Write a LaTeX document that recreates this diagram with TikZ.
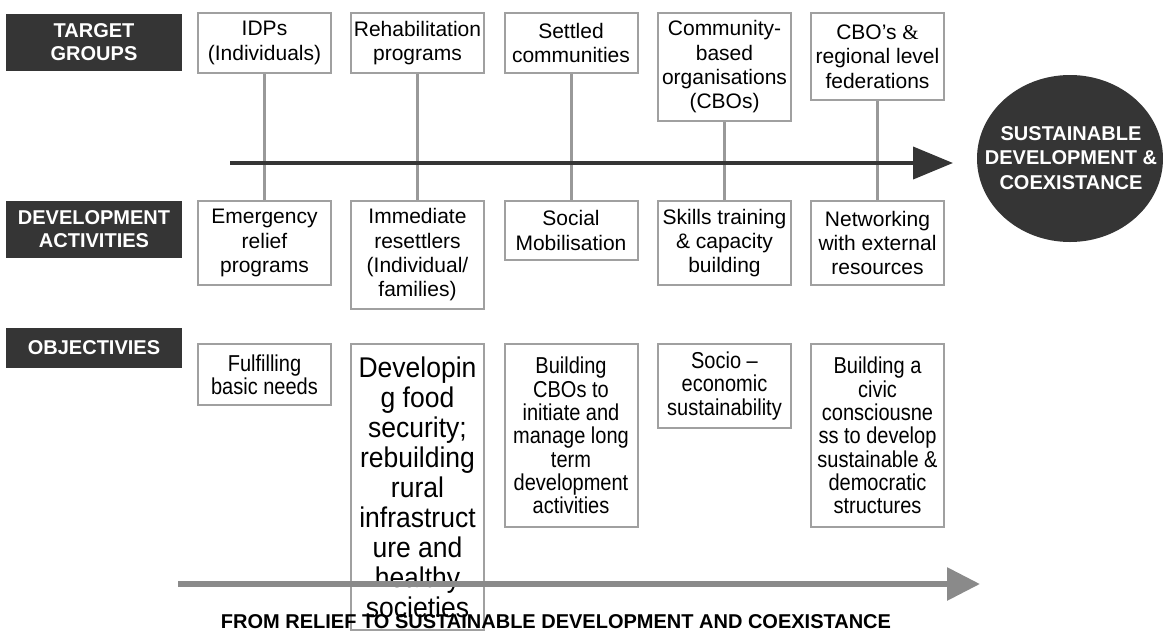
\documentclass[tikz,border=0pt]{standalone}
\usepackage{fontspec}
\setmainfont{Liberation Sans}
\newfontfamily\objfont[FakeStretch=0.87]{Liberation Sans}
\newfontfamily\foodfont[FakeStretch=0.93]{Liberation Sans}
\newfontfamily\seriffont{Liberation Serif}
\usetikzlibrary{arrows.meta}
\definecolor{labgray}{HTML}{353535}
\definecolor{boxgray}{HTML}{A0A0A0}
\definecolor{linegray}{HTML}{999999}
\definecolor{flowgray}{HTML}{8A8A8A}

\begin{document}
\begin{tikzpicture}[
									x = 1pt,
									y = -1pt,
									lab/.style = {
										rectangle,
										fill = labgray,
										text = white,
										inner sep = 0,
										minimum width = 176pt,
										align = center,
										font = \fontsize{20}{23}\selectfont\bfseries
									},
									box/.style = {
										draw = boxgray,
										line width = 2pt,
										fill = white,
										rectangle,
										inner sep = 0,
										minimum width = 133pt,
										align = center,
										font = \fontsize{21}{24.3}\selectfont
									},
									obj/.style = {
										box,
										font = \fontsize{23}{23.3}\objfont
									},
									conn/.style = {
										draw = linegray,
										line width = 3pt
									}
								]
							\useasboundingbox (0, 0) rectangle (1163, 633);

							\node [lab, minimum height = 57pt] (target) at (94, 42.5) {TARGET\\GROUPS};
							\node [lab, minimum height = 57pt] (devact) at (94, 229.5) {DEVELOPMENT\\ACTIVITIES};
							\node [lab, minimum height = 40pt] (objectives) at (94, 348) {OBJECTIVIES};

							\node [box, minimum height = 60pt] (tIdp) at (264.5, 43) {IDPs\\(Individuals)};
							\node [box, minimum height = 60pt] (tRehab) at (417.5, 43) {Rehabilitation\\programs};
							\node [box, minimum height = 60pt] (tSettled) at (571, 43) {Settled\\communities};
							\node [box, minimum height = 108pt] (tCbo) at (724.5, 67) {Community-\\based\\organisations\\(CBOs)};
							\node [box, minimum height = 87pt] (tFed) at (877.5, 56.5) {CBO’s {\seriffont\&}\\regional level\\federations};

							\node [box, minimum height = 84pt] (aRelief) at (264.5, 243) {Emergency\\relief\\programs};
							\node [box, minimum height = 108pt] (aResettle) at (417.5, 255) {Immediate\\resettlers\\(Individual/\\families)};
							\node [box, minimum height = 59pt] (aSocial) at (571, 230.5) {Social\\Mobilisation};
							\node [box, minimum height = 84pt] (aSkills) at (724.5, 243) {Skills training\\\& capacity\\building};
							\node [box, minimum height = 84pt] (aNetwork) at (877.5, 243) {Networking\\with external\\resources};

							\draw [conn] (tIdp) -- (aRelief);
							\draw [conn] (tRehab) -- (aResettle);
							\draw [conn] (tSettled) -- (aSocial);
							\draw [conn] (tCbo) -- (aSkills);
							\draw [conn] (tFed) -- (aNetwork);

							\coordinate (tlStart) at (230, 163);
							\coordinate (tlEnd) at (953, 163);
							\draw [draw = labgray, line width = 4pt, -{Triangle[length = 40pt, width = 32pt]}] (tlStart) -- (tlEnd);

							\fill [labgray] (1070, 158.5) ellipse [x radius = 93, y radius = 83.5];
							\node [text = white, inner sep = 0, align = center, font = \fontsize{20}{24.5}\selectfont\bfseries] (goal) at (1071, 158) {SUSTAINABLE\\DEVELOPMENT \&\\COEXISTANCE};

							\node [obj, minimum height = 61pt] (oBasic) at (264.5, 374.5) {Fulfilling\\basic needs};
							\node [box, minimum height = 286pt, font = \fontsize{28.5}{30}\foodfont] (oFood) at (417.5, 487) {Developin\\g food\\security;\\rebuilding\\rural\\infrastruct\\ure and\\healthy\\societies};
							\node [obj, minimum height = 183pt] (oCbo) at (571, 435.5) {Building\\CBOs to\\initiate and\\manage long\\term\\development\\activities};
							\node [obj, minimum height = 84pt] (oSocio) at (724.5, 386) {Socio –\\economic\\sustainability};
							\node [obj, minimum height = 183pt] (oCivic) at (877.5, 435.5) {Building a\\civic\\consciousne\\ss to develop\\sustainable \&\\democratic\\structures};

							\coordinate (flowStart) at (178, 584);
							\coordinate (flowEnd) at (980, 584);
							\draw [draw = flowgray, line width = 6pt, -{Triangle[length = 33pt, width = 32pt]}] (flowStart) -- (flowEnd);

							\node [font = \fontsize{20}{24}\selectfont\bfseries, inner sep = 0] (flowtitle) at (556, 622) {FROM RELIEF TO SUSTAINABLE DEVELOPMENT AND COEXISTANCE};
						\end{tikzpicture}
\end{document}
